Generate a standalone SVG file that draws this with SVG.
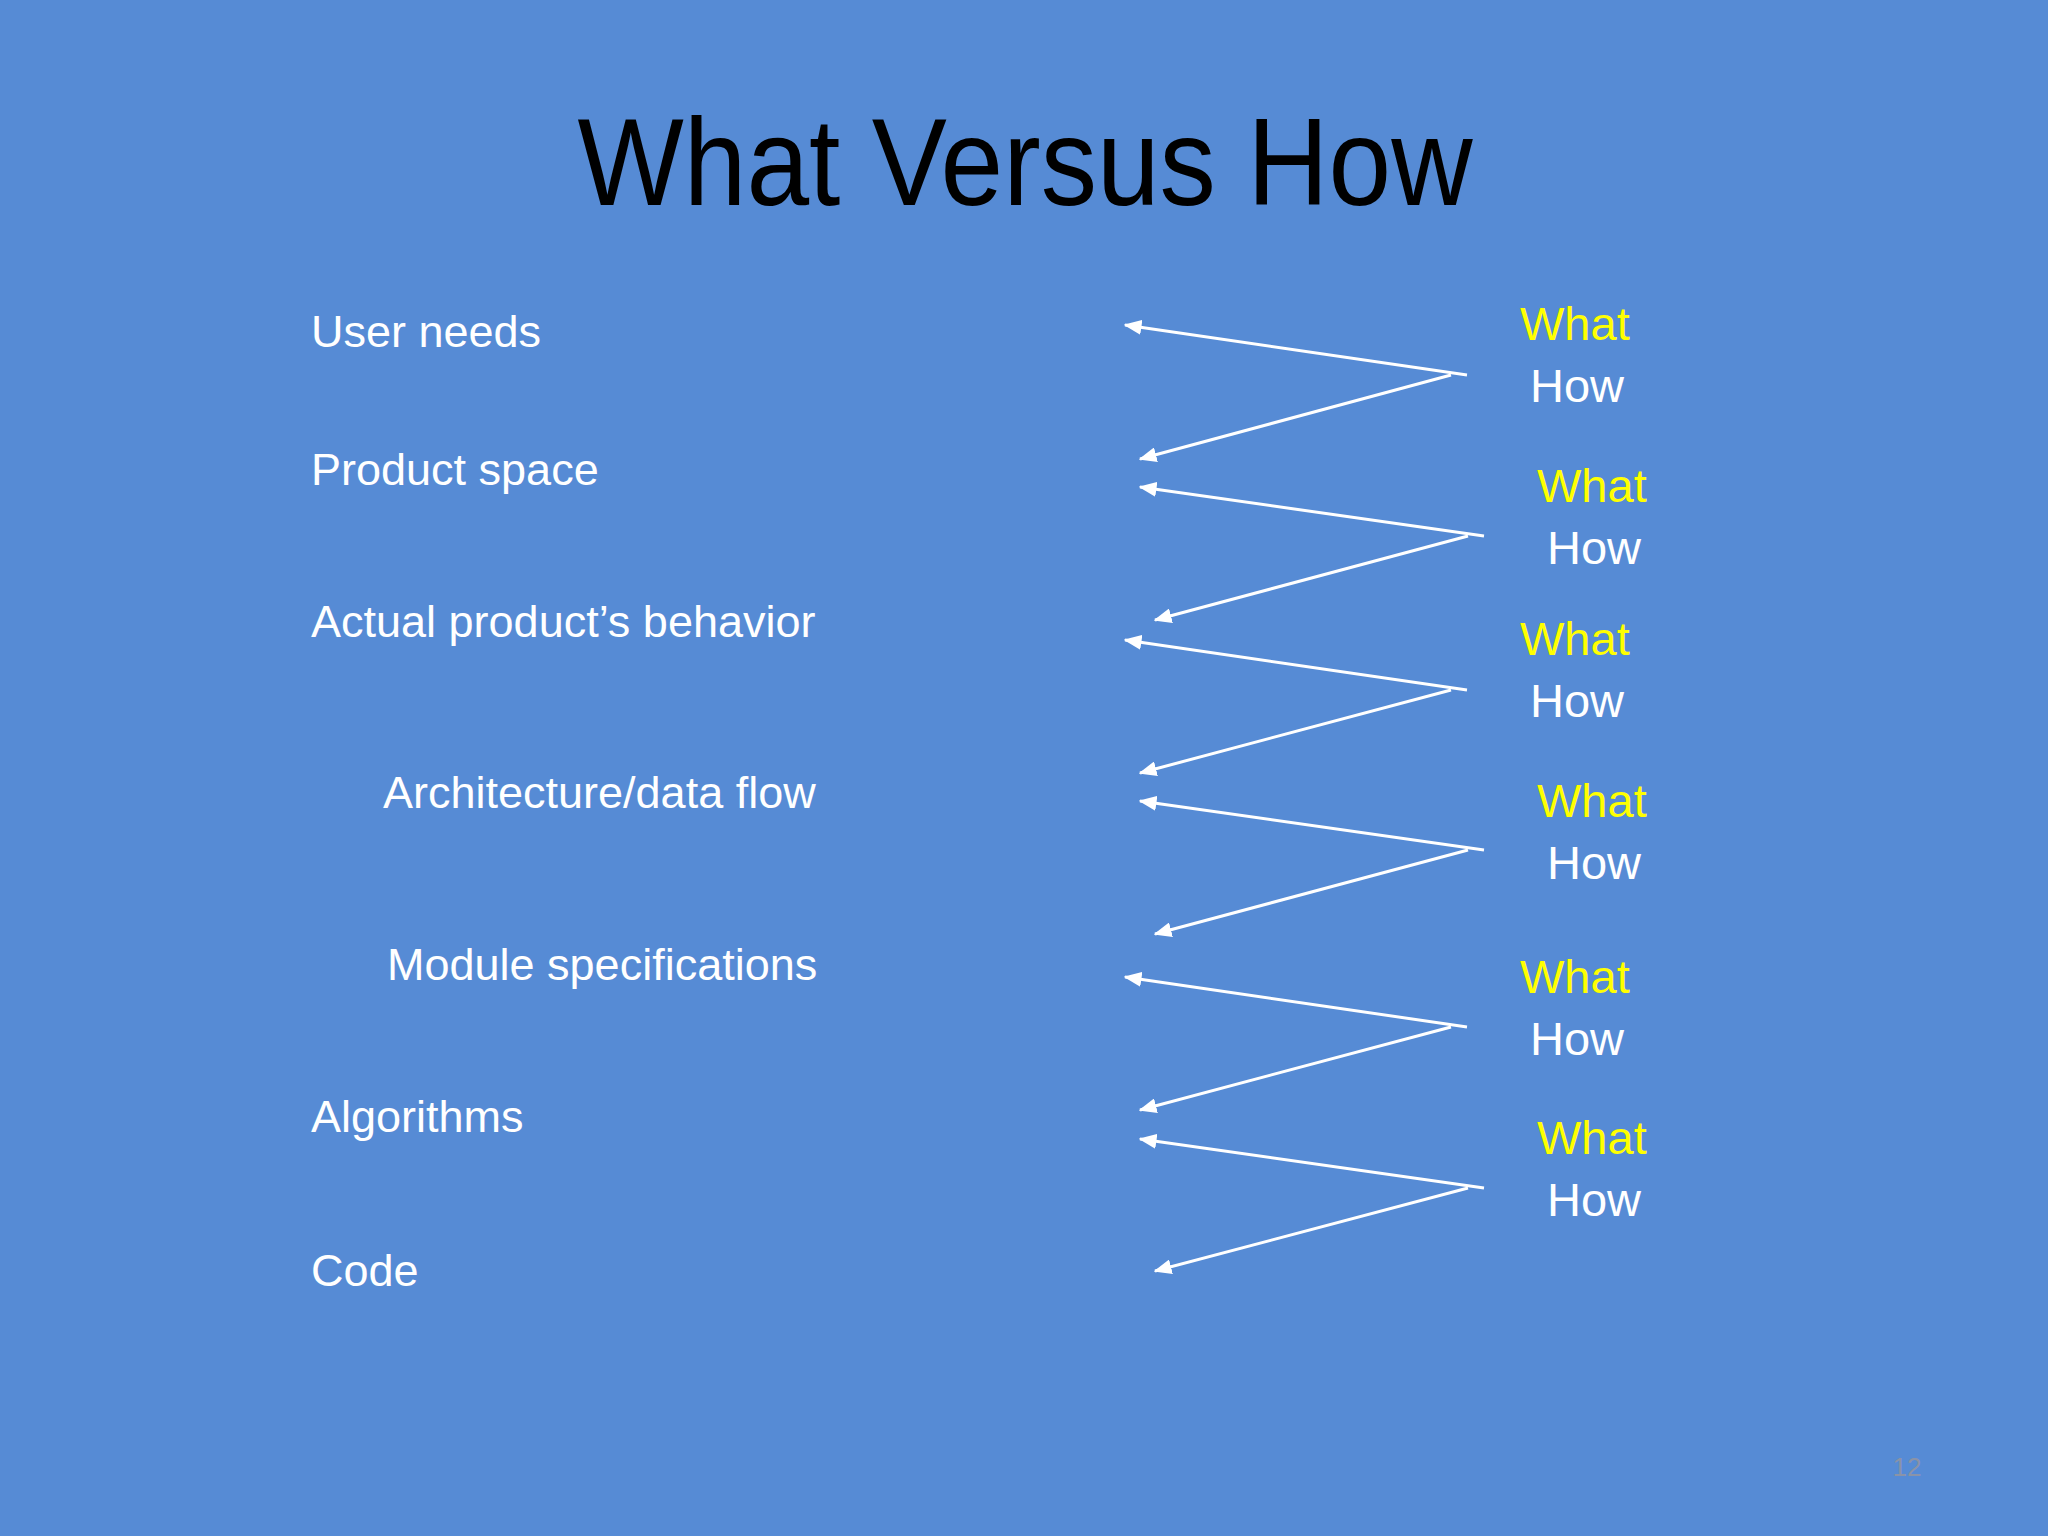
<svg xmlns="http://www.w3.org/2000/svg" width="2048" height="1536" viewBox="0 0 2048 1536">
<defs>
<marker id="ah" viewBox="0 0 10 10" refX="9" refY="5" markerWidth="7" markerHeight="7" markerUnits="userSpaceOnUse" orient="auto"><path d="M0,0 L10,5 L0,10 z" fill="#fff"/></marker>
<style>
.l{font-family:"Liberation Sans",Arial,sans-serif;font-size:45px;fill:#fff}
.w{font-family:"Liberation Sans",Arial,sans-serif;font-size:47px;fill:#ffff00}
.h{font-family:"Liberation Sans",Arial,sans-serif;font-size:47px;fill:#fff}
.c line{stroke:#fff;stroke-width:3}
</style>
<marker id="a" viewBox="0 0 12 10" refX="11" refY="5" markerWidth="18" markerHeight="15" markerUnits="userSpaceOnUse" orient="auto"><path d="M0,0 L12,5 L0,10 z" fill="#fff"/></marker>
</defs>
<rect width="2048" height="1536" fill="#568bd5"/>
<text x="1025" y="205" text-anchor="middle" font-family="'Liberation Sans',Arial,sans-serif" font-size="124" fill="#000" textLength="895" lengthAdjust="spacingAndGlyphs">What Versus How</text>
<g id="left">
<text class="l" x="311" y="347">User needs</text>
<text class="l" x="311" y="485">Product space</text>
<text class="l" x="311" y="637">Actual product’s behavior</text>
<text class="l" x="383" y="808">Architecture/data flow</text>
<text class="l" x="387" y="980">Module specifications</text>
<text class="l" x="311" y="1132">Algorithms</text>
<text class="l" x="311" y="1286">Code</text>
</g>
<g id="labels">
<text class="w" x="1520" y="340">What</text><text class="h" x="1530" y="402">How</text>
<text class="w" x="1537" y="502">What</text><text class="h" x="1547" y="564">How</text>
<text class="w" x="1520" y="655">What</text><text class="h" x="1530" y="717">How</text>
<text class="w" x="1537" y="817">What</text><text class="h" x="1547" y="879">How</text>
<text class="w" x="1520" y="993">What</text><text class="h" x="1530" y="1055">How</text>
<text class="w" x="1537" y="1154">What</text><text class="h" x="1547" y="1216">How</text>
</g>
<g id="connectors" class="c">
<line x1="1467" y1="375" x2="1125" y2="325" marker-end="url(#a)"/>
<line x1="1451" y1="375" x2="1140" y2="459" marker-end="url(#a)"/>
<line x1="1484" y1="536" x2="1140" y2="487" marker-end="url(#a)"/>
<line x1="1468" y1="536" x2="1155" y2="620" marker-end="url(#a)"/>
<line x1="1467" y1="690" x2="1125" y2="640" marker-end="url(#a)"/>
<line x1="1451" y1="690" x2="1140" y2="773" marker-end="url(#a)"/>
<line x1="1484" y1="850" x2="1140" y2="801" marker-end="url(#a)"/>
<line x1="1468" y1="850" x2="1155" y2="934" marker-end="url(#a)"/>
<line x1="1467" y1="1027" x2="1125" y2="977" marker-end="url(#a)"/>
<line x1="1451" y1="1027" x2="1140" y2="1110" marker-end="url(#a)"/>
<line x1="1484" y1="1188" x2="1140" y2="1139" marker-end="url(#a)"/>
<line x1="1468" y1="1188" x2="1155" y2="1271" marker-end="url(#a)"/>
</g>
<text x="1907" y="1476" font-family="'Liberation Sans',Arial,sans-serif" font-size="26" fill="#8a93a8" text-anchor="middle">12</text>
</svg>
